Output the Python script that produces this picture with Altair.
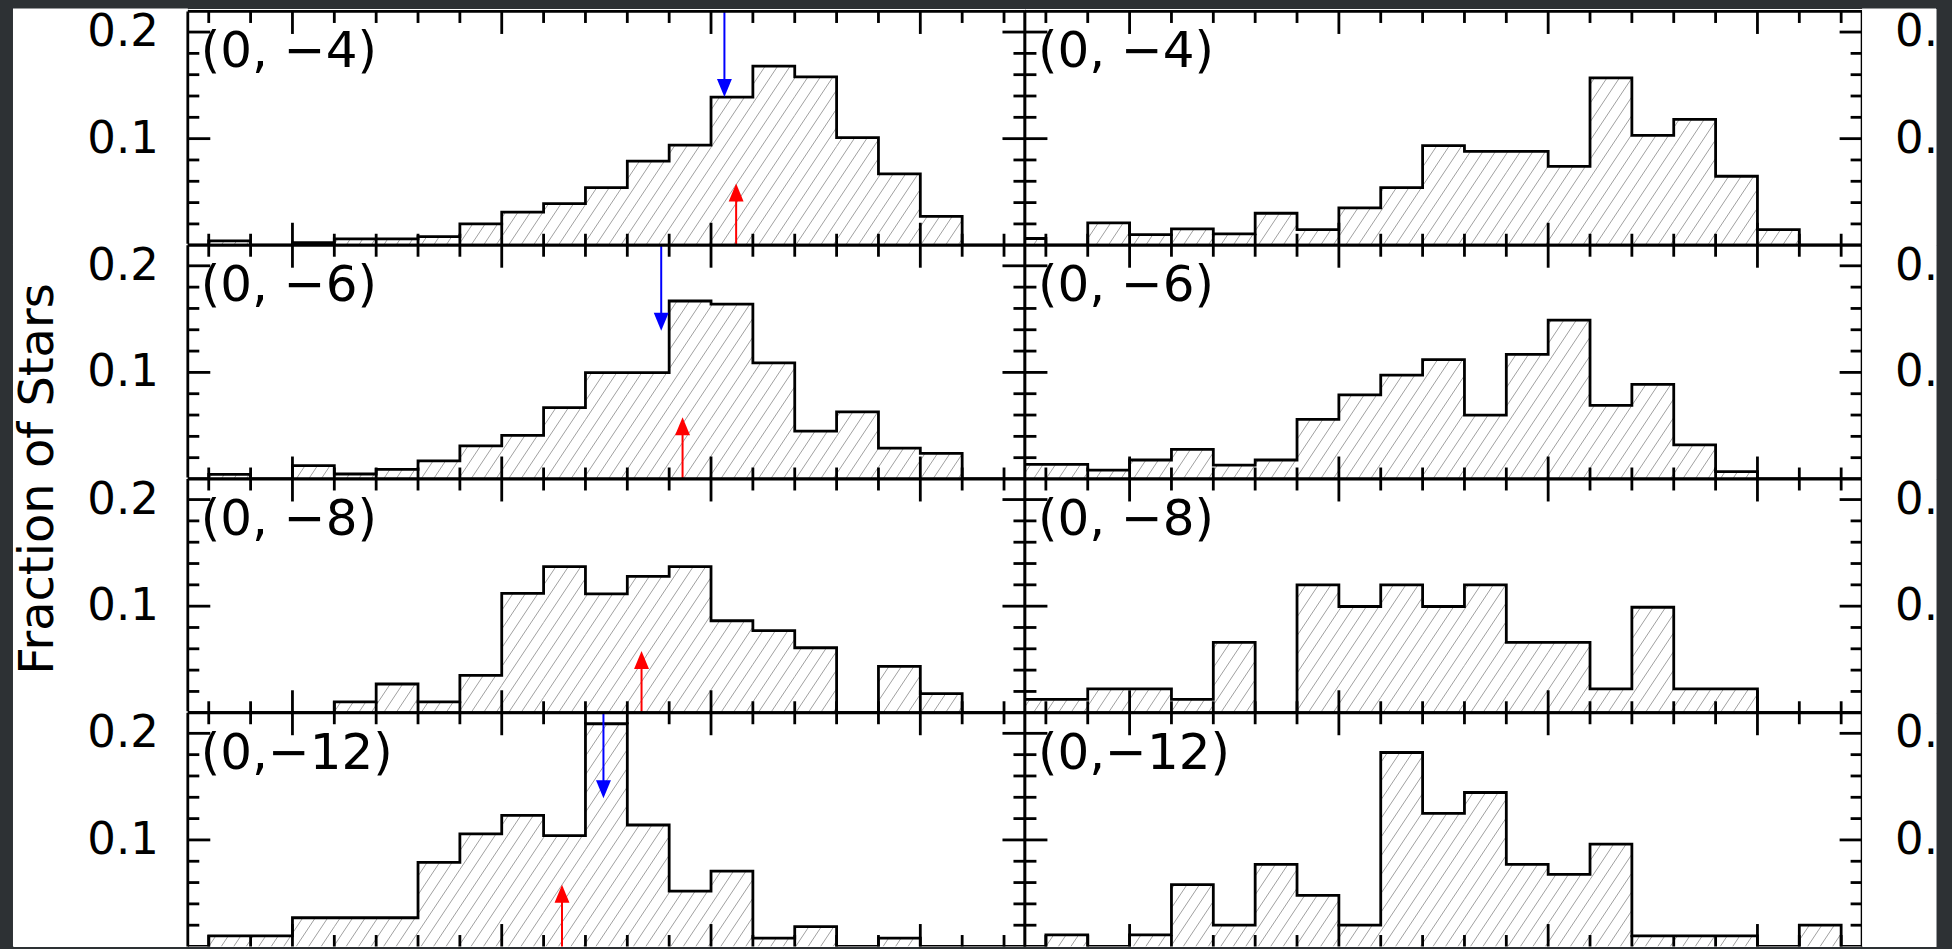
import math
import altair as alt
import pandas as pd

# ---------------- data ----------------
PANEL_LABELS = ["(0, −4)", "(0, −6)", "(0, −8)", "(0,−12)"]

# bin heights (fraction of stars); first value is the bin whose left edge is at x = -1
BIN_START = -1
LEFT_H = [
    [0, 0.004, 0, 0.0025, 0.006, 0.006, 0.008, 0.020, 0.031, 0.039, 0.054,
     0.079, 0.094, 0.139, 0.168, 0.158, 0.101, 0.067, 0.027, 0, 0],
    [0, 0.0044, 0, 0.0125, 0.0047, 0.009, 0.017, 0.031, 0.041, 0.067, 0.0997,
     0.0997, 0.167, 0.164, 0.109, 0.045, 0.063, 0.029, 0.024, 0, 0],
    [0, 0, 0, 0, 0.0103, 0.027, 0.0103, 0.035, 0.112, 0.137, 0.1115,
     0.128, 0.137, 0.0863, 0.077, 0.061, 0, 0.0436, 0.018, 0, 0],
    [0, 0.01, 0.01, 0.027, 0.027, 0.027, 0.079, 0.1056, 0.123, 0.104, 0.209,
     0.114, 0.052, 0.0707, 0.0078, 0.0187, 0, 0.0078, 0, 0, 0],
]
RIGHT_H = [
    [0.0063, 0, 0.021, 0.010, 0.0153, 0.0106, 0.030, 0.0147, 0.035, 0.054, 0.0934,
     0.088, 0.088, 0.074, 0.157, 0.103, 0.118, 0.0647, 0.0147, 0, 0],
    [0.0137, 0.0137, 0.0084, 0.0178, 0.0278, 0.013, 0.0178, 0.056, 0.079, 0.0975, 0.112,
     0.06, 0.117, 0.149, 0.069, 0.0888, 0.032, 0.0069, 0, 0, 0],
    [0.0125, 0.0125, 0.0224, 0.0224, 0.0125, 0.066, 0, 0.12, 0.0997, 0.12, 0.0997,
     0.12, 0.066, 0.066, 0.0224, 0.099, 0.0224, 0.0224, 0, 0, 0],
    [0, 0.011, 0, 0.011, 0.058, 0.02, 0.077, 0.048, 0.02, 0.182, 0.125,
     0.1445, 0.077, 0.0676, 0.096, 0.01, 0.01, 0.01, 0, 0.02, 0],
]
BLUE_X = [12.32, 10.81, None, 9.43]
RED_X = [12.60, 11.32, 10.34, 8.44]
BLUE_TIP = 0.139
RED_TIP = 0.058

X_DOMAIN = [-0.5, 19.5]
Y_TOP = 0.2193
X_MAJOR_TICKS = [2, 7, 12, 17]
X_MINOR_TICKS = [k for k in range(0, 20) if k not in X_MAJOR_TICKS]
Y_MAJOR_TICKS = [0.1, 0.2]
Y_MINOR_TICKS = [0.02, 0.04, 0.06, 0.08, 0.12, 0.14, 0.16, 0.18]
Y_TICK_LABELS = [0.1, 0.2]
Y_TITLE = "Fraction of Stars"

# ---------------- layout / style ----------------
DARK = "#2d3134"
FONT = "DejaVu Sans"
PANEL_W = 838
ROW_H = 234
TOP_EXTRA = [3, 0, 0, 0]      # white strip above the first row of panels
LABEL_W = 175
RLABEL_W = 74
LW = 2.8
MINOR_LEN = 11.5
MAJOR_LEN = 22.5
HATCH_COLOR = "#a0a0a0"
HATCH_SLOPE_PX = 1.5
HATCH_GAP_PX = 12.5
DOWN_HEAD = "M0,0L-0.83,-2L0.83,-2Z"
UP_HEAD = "M0,0L-0.83,2L0.83,2Z"
TICK_FS = 45
LABEL_FS = 50
TITLE_FS = 48

PX_PER_X = PANEL_W / (X_DOMAIN[1] - X_DOMAIN[0])
PX_PER_Y = ROW_H / Y_TOP
WHITE_VIEW = alt.ViewBackground(fill="white", stroke="transparent")
ONE = pd.DataFrame({"a": [0]})


def xs():
    return alt.Scale(domain=X_DOMAIN, nice=False, zero=False)


def ys(extra):
    return alt.Scale(domain=[0, Y_TOP * (ROW_H + extra) / ROW_H], nice=False, zero=False)


def hatch_df(heights):
    m = HATCH_SLOPE_PX * PX_PER_X / PX_PER_Y
    gap = HATCH_GAP_PX / PX_PER_X
    rows = []
    for k, h in enumerate(heights):
        if h <= 0:
            continue
        x0 = max(BIN_START + k, X_DOMAIN[0])
        x1 = min(BIN_START + k + 1, X_DOMAIN[1])
        if x1 <= x0:
            continue
        jmin = math.ceil((x0 - h / m) / gap)
        jmax = math.floor(x1 / gap)
        for j in range(jmin, jmax + 1):
            c = j * gap
            xa = max(x0, c)
            xb = min(x1, c + h / m)
            if xb > xa:
                rows.append({"x": xa, "y": m * (xa - c), "x2": xb, "y2": m * (xb - c)})
    return pd.DataFrame(rows)


def outline_df(heights):
    xs_, ys_ = [BIN_START], [0.0]
    for k, h in enumerate(heights):
        xs_.append(BIN_START + k)
        ys_.append(h)
    xs_.append(BIN_START + len(heights))
    ys_.append(0.0)
    return pd.DataFrame({"x": xs_, "y": ys_, "i": list(range(len(xs_)))})


def white_patch(width, height, first_row):
    # white fill that overlaps the row above slightly (hides seams)
    return alt.Chart(ONE).mark_rect(color="white").encode(
        x=alt.value(0), x2=alt.value(width),
        y=alt.value(0 if first_row else -1.5), y2=alt.value(height))


def panel(heights, label, blue_x, red_x, extra, has_bottom):
    H = ROW_H + extra
    X = lambda f: alt.X(f, scale=xs(), axis=None)
    Y = lambda f: alt.Y(f, scale=ys(extra), axis=None)
    layers = []
    layers.append(alt.Chart(hatch_df(heights)).mark_rule(
        color=HATCH_COLOR, strokeWidth=1, clip=True).encode(
        x=X("x:Q"), y=Y("y:Q"), x2="x2:Q", y2="y2:Q"))
    layers.append(alt.Chart(outline_df(heights)).mark_line(
        interpolate="step-after", color="black", strokeWidth=LW, clip=True).encode(
        x=X("x:Q"), y=Y("y:Q"), order="i:Q"))
    # ticks (inward)
    for vals, L in ((Y_MINOR_TICKS, MINOR_LEN), (Y_MAJOR_TICKS, MAJOR_LEN)):
        base = alt.Chart(pd.DataFrame({"v": vals})).mark_rule(color="black", strokeWidth=LW)
        layers.append(base.encode(y=Y("v:Q"), x=alt.value(0), x2=alt.value(L)))
        layers.append(base.encode(y=Y("v:Q"), x=alt.value(PANEL_W - L), x2=alt.value(PANEL_W)))
    for vals, L in ((X_MINOR_TICKS, MINOR_LEN), (X_MAJOR_TICKS, MAJOR_LEN)):
        base = alt.Chart(pd.DataFrame({"v": vals})).mark_rule(color="black", strokeWidth=LW)
        layers.append(base.encode(x=X("v:Q"), y=alt.value(extra), y2=alt.value(extra + L)))
        layers.append(base.encode(x=X("v:Q"), y=alt.value(H - L), y2=alt.value(H)))
    # arrows
    if blue_x is not None:
        bd = pd.DataFrame({"x": [blue_x], "y0": [Y_TOP], "y1": [BLUE_TIP + 0.005], "tip": [BLUE_TIP]})
        layers.append(alt.Chart(bd).mark_rule(color="#0000ff", strokeWidth=2).encode(
            x=X("x:Q"), y=Y("y0:Q"), y2="y1:Q"))
        layers.append(alt.Chart(bd).mark_point(shape=DOWN_HEAD, size=324, filled=True,
                                               color="#0000ff", opacity=1, strokeWidth=0).encode(
            x=X("x:Q"), y=Y("tip:Q")))
    if red_x is not None:
        rd = pd.DataFrame({"x": [red_x], "y0": [0.0], "y1": [RED_TIP - 0.005], "tip": [RED_TIP]})
        layers.append(alt.Chart(rd).mark_rule(color="#ff0000", strokeWidth=2).encode(
            x=X("x:Q"), y=Y("y0:Q"), y2="y1:Q"))
        layers.append(alt.Chart(rd).mark_point(shape=UP_HEAD, size=324, filled=True,
                                               color="#ff0000", opacity=1, strokeWidth=0).encode(
            x=X("x:Q"), y=Y("tip:Q")))
    # panel label
    layers.append(alt.Chart(pd.DataFrame({"t": [label]})).mark_text(
        align="left", baseline="alphabetic", font=FONT, fontSize=LABEL_FS, color="black").encode(
        x=alt.value(13), y=alt.value(56 + extra), text="t:N"))
    # frame
    fb = alt.Chart(ONE).mark_rule(color="black", strokeWidth=LW)
    layers.append(fb.encode(x=alt.value(0), x2=alt.value(PANEL_W), y=alt.value(extra)))
    layers.append(fb.encode(x=alt.value(0), y=alt.value(extra), y2=alt.value(H)))
    layers.append(fb.encode(x=alt.value(PANEL_W), y=alt.value(extra), y2=alt.value(H)))
    if has_bottom:
        layers.append(fb.encode(x=alt.value(0), x2=alt.value(PANEL_W), y=alt.value(H)))
    return alt.layer(*layers).properties(width=PANEL_W, height=H, view=WHITE_VIEW)


def left_labels(extra, first_row, with_title):
    H = ROW_H + extra
    d = pd.DataFrame({"v": Y_TICK_LABELS, "t": [f"{v:.1f}" for v in Y_TICK_LABELS]})
    layers = [white_patch(LABEL_W, H, first_row),
              alt.Chart(d).mark_text(align="right", baseline="middle", font=FONT,
                                     fontSize=TICK_FS, color="black").encode(
                  y=alt.Y("v:Q", scale=ys(extra), axis=None), x=alt.value(146), text="t:N")]
    if with_title:
        layers.append(alt.Chart(pd.DataFrame({"t": [Y_TITLE]})).mark_text(
            angle=270, align="center", baseline="alphabetic", font=FONT, fontSize=TITLE_FS,
            color="black").encode(x=alt.value(40), y=alt.value(0), text="t:N"))
    return alt.layer(*layers).properties(width=LABEL_W, height=H, view=WHITE_VIEW)


def right_labels(extra, first_row):
    H = ROW_H + extra
    d = pd.DataFrame({"v": Y_TICK_LABELS, "t": [f"{v:.1f}" for v in Y_TICK_LABELS]})
    txt = alt.Chart(d).mark_text(align="left", baseline="middle", font=FONT,
                                 fontSize=TICK_FS, color="black", clip=True).encode(
        y=alt.Y("v:Q", scale=ys(extra), axis=None), x=alt.value(33), text="t:N")
    return alt.layer(white_patch(RLABEL_W, H, first_row), txt).properties(
        width=RLABEL_W, height=H, view=WHITE_VIEW)


cells = []
for r in range(4):
    e = TOP_EXTRA[r]
    cells += [
        left_labels(e, r == 0, r == 2),
        panel(LEFT_H[r], PANEL_LABELS[r], BLUE_X[r], RED_X[r], e, r < 3),
        panel(RIGHT_H[r], PANEL_LABELS[r], None, None, e, r < 3),
        right_labels(e, r == 0),
    ]

chart = alt.concat(*cells, columns=4, spacing=0, bounds="flush").properties(
    background=DARK,
    padding={"left": 12, "top": 7, "right": 15, "bottom": 3},
)

chart.save("out.html", embed_options={"renderer": "svg", "actions": False})
